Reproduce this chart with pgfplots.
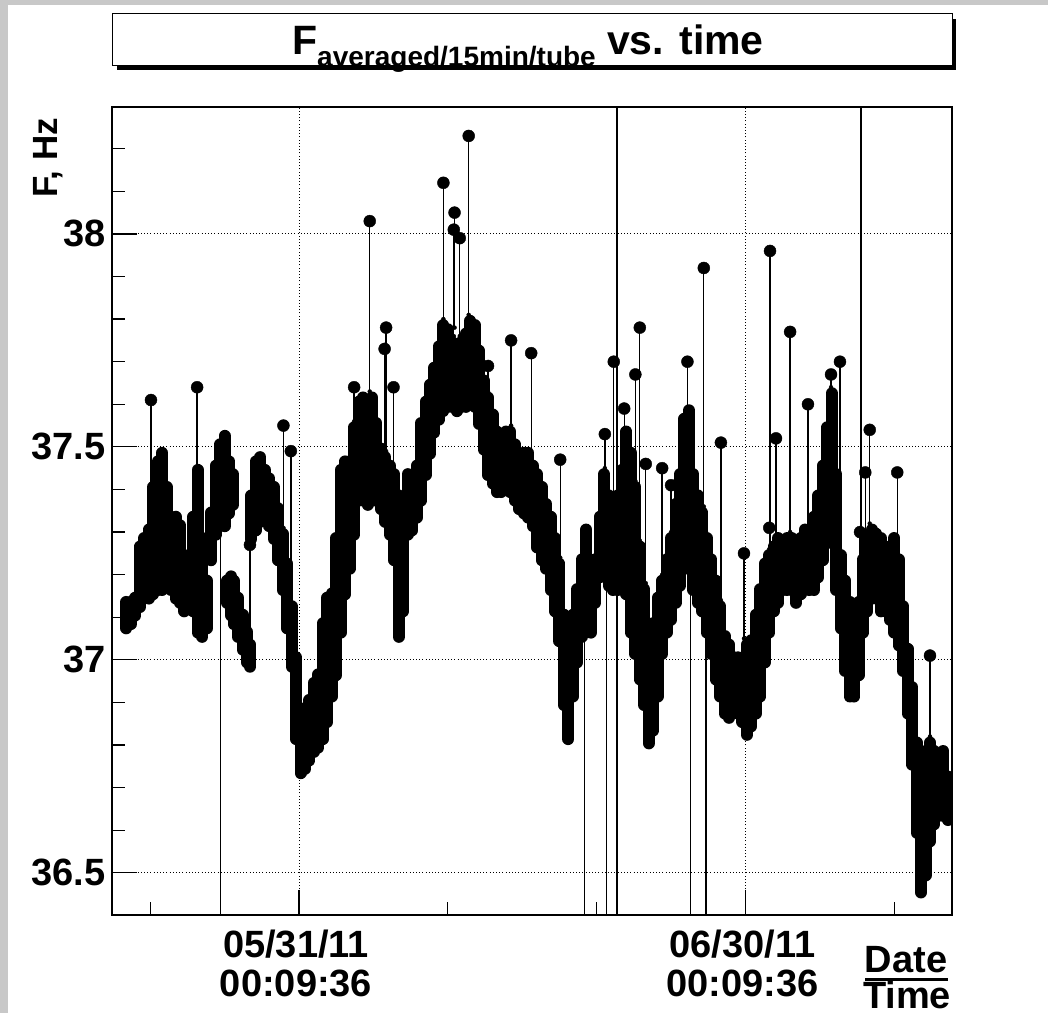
\documentclass[border=0pt]{standalone}
\usepackage{fontspec}
\setmainfont{Liberation Sans}
\usepackage{pgfplots}
\usepackage{pgfplotstable}
\pgfplotsset{compat=1.18}
\definecolor{canvasgray}{RGB}{200,200,200}

% Envelope of the 15-minute averages (days after 05/31/11 00:09:36, Hz)
\pgfplotstableread{
t lo hi
-11.6 37.06 37.15
-11.3 37.07 37.15
-11.0 37.09 37.16
-10.7 37.11 37.28
-10.4 37.14 37.30
-10.1 37.13 37.32
-9.8 37.14 37.42
-9.5 37.15 37.48
-9.2 37.15 37.50
-8.9 37.17 37.42
-8.6 37.15 37.33
-8.3 37.13 37.35
-8.0 37.12 37.33
-7.7 37.10 37.26
-7.4 37.11 37.23
-7.1 37.10 37.35
-6.8 37.05 37.46
-6.5 37.04 37.30
-6.2 37.06 37.20
-5.9 37.22 37.36
-5.6 37.28 37.47
-5.3 37.30 37.52
-5.0 37.30 37.54
-4.7 37.33 37.48
-4.45 37.35 37.45
-4.85 37.12 37.20
-4.55 37.09 37.21
-4.4 37.07 37.20
-4.1 37.04 37.16
-3.8 37.01 37.12
-3.5 36.98 37.08
-3.3 36.97 37.05
-3.2 37.27 37.40
-2.9 37.29 37.48
-2.6 37.31 37.49
-2.3 37.33 37.46
-2.0 37.30 37.44
-1.7 37.27 37.42
-1.4 37.22 37.37
-1.1 37.15 37.31
-0.8 37.06 37.24
-0.5 36.97 37.14
-0.2 36.80 37.02
0.1 36.72 36.90
0.4 36.73 36.88
0.7 36.75 36.92
1.0 36.77 36.96
1.3 36.78 36.98
1.6 36.80 37.10
1.9 36.84 37.16
2.2 36.90 37.17
2.5 36.95 37.30
2.8 37.05 37.46
3.1 37.14 37.48
3.4 37.20 37.48
3.7 37.28 37.56
4.0 37.36 37.62
4.3 37.36 37.63
4.6 37.35 37.62
4.9 37.36 37.63
5.2 37.36 37.57
5.5 37.34 37.51
5.8 37.31 37.49
6.1 37.28 37.47
6.4 37.22 37.45
6.7 37.04 37.40
7.0 37.10 37.38
7.3 37.28 37.45
7.6 37.29 37.43
7.9 37.32 37.47
8.2 37.36 37.57
8.5 37.42 37.62
8.8 37.47 37.66
9.1 37.52 37.70
9.4 37.55 37.75
9.7 37.57 37.80
10.0 37.58 37.79
10.3 37.58 37.76
10.6 37.57 37.74
10.9 37.58 37.76
11.2 37.58 37.78
11.5 37.60 37.81
11.8 37.58 37.80
12.1 37.54 37.74
12.4 37.48 37.67
12.7 37.42 37.63
13.0 37.40 37.59
13.3 37.38 37.55
13.6 37.38 37.52
13.9 37.39 37.55
14.2 37.38 37.55
14.5 37.36 37.52
14.8 37.34 37.50
15.1 37.33 37.50
15.4 37.32 37.50
15.7 37.30 37.47
16.0 37.25 37.45
16.3 37.22 37.42
16.6 37.20 37.38
16.9 37.15 37.35
17.2 37.10 37.30
17.5 37.03 37.24
17.8 36.88 37.12
18.1 36.80 37.05
18.4 36.90 37.12
18.7 36.98 37.18
19.0 37.04 37.25
19.3 37.08 37.32
19.6 37.05 37.18
19.9 37.12 37.25
20.2 37.18 37.35
20.5 37.20 37.45
20.8 37.16 37.40
21.1 37.15 37.38
21.4 37.15 37.40
21.7 37.18 37.46
22.0 37.14 37.55
22.3 37.05 37.50
22.6 37.00 37.42
22.9 36.94 37.28
23.2 36.88 37.18
23.5 36.79 37.06
23.8 36.82 37.10
24.1 36.90 37.16
24.4 37.00 37.20
24.7 37.05 37.25
25.0 37.08 37.30
25.3 37.12 37.38
25.6 37.16 37.45
25.9 37.20 37.58
26.2 37.20 37.60
26.5 37.15 37.45
26.8 37.12 37.40
27.1 37.10 37.36
27.4 37.05 37.30
27.7 37.00 37.25
28.0 36.94 37.20
28.3 36.90 37.14
28.6 36.86 37.07
28.9 36.85 37.05
29.2 36.87 37.02
29.5 36.86 37.02
29.8 36.84 37.00
30.1 36.81 37.05
30.4 36.83 37.06
30.7 36.86 37.12
31.0 36.90 37.18
31.3 36.98 37.24
31.6 37.05 37.26
31.9 37.10 37.28
32.2 37.12 37.30
32.5 37.15 37.28
32.8 37.15 37.30
33.1 37.15 37.30
33.4 37.12 37.28
33.7 37.14 37.30
34.0 37.18 37.32
34.3 37.15 37.30
34.6 37.15 37.35
34.9 37.18 37.40
35.2 37.22 37.47
35.5 37.26 37.56
35.8 37.28 37.64
36.1 37.15 37.45
36.4 37.06 37.26
36.7 36.96 37.20
37.0 36.90 37.15
37.3 36.90 37.12
37.6 36.95 37.15
37.9 37.05 37.25
38.2 37.10 37.30
38.5 37.13 37.32
38.8 37.13 37.31
39.1 37.10 37.30
39.4 37.10 37.28
39.7 37.08 37.28
40.0 37.05 37.30
40.3 37.02 37.25
40.6 36.96 37.14
40.9 36.86 37.04
41.2 36.74 36.95
41.5 36.58 36.82
41.8 36.44 36.72
42.1 36.48 36.80
42.4 36.56 36.82
42.7 36.60 36.80
43.0 36.62 36.78
43.3 36.62 36.80
43.6 36.61 36.74
}\bandtable

% Isolated readings joined to the band (from -> to); off-scale ones run out of the frame
\pgfplotstableread{
t from to
-9.95 37.32 37.61
-6.85 37.45 37.64
-5.3 37.32 35.9
-3.3 37.05 37.27
-1.05 37.31 37.55
-0.55 37.14 37.49
3.7 37.56 37.64
4.75 37.63 38.03
5.85 37.49 37.78
5.75 37.49 37.73
6.35 37.45 37.64
9.7 37.80 38.12
10.45 37.78 38.05
10.4 37.76 38.01
10.8 37.76 37.99
11.4 37.81 38.23
12.7 37.63 37.69
14.25 37.55 37.75
15.6 37.47 37.72
17.55 37.24 37.47
19.2 37.30 35.9
20.55 37.45 37.53
20.65 37.20 35.9
21.15 37.38 37.70
21.37 35.9 39.0
21.85 37.46 37.59
22.6 37.42 37.67
22.9 37.28 37.78
23.3 37.18 37.46
24.4 37.20 37.45
25.0 37.30 37.41
26.1 37.58 37.70
26.3 37.50 35.9
27.2 37.36 37.92
27.35 37.30 35.9
28.35 37.14 37.51
29.9 37.05 37.25
31.6 37.26 37.31
31.65 37.26 37.96
32.05 37.28 37.52
33.0 37.30 37.77
34.2 37.30 37.60
35.75 37.64 37.67
36.35 37.26 37.70
37.77 37.15 39.0
37.7 37.15 37.30
38.05 37.25 37.44
38.35 37.32 37.54
40.2 37.25 37.44
42.4 36.82 37.01
}\stemtable

\newcommand{\labfont}{\fontsize{38bp}{39bp}\selectfont\bfseries}

\begin{document}
\begin{tikzpicture}[x=1bp,y=1bp]
\useasboundingbox (0,0) rectangle (1048,1013);
\fill[canvasgray] (0,0) rectangle (1048,1013);
\fill[white] (8,0) rectangle (1048,1008);

% title pave with its shadow
\fill[black] (117,943) rectangle (956,994);
\filldraw[fill=white, draw=black, line width=1bp] (112,947) rectangle (952,999);
\node[anchor=base west, inner sep=0] at (292,958)
  {\fontsize{41bp}{41bp}\selectfont\bfseries F\raisebox{-12bp}{\fontsize{28bp}{28bp}\selectfont averaged/15min/tube} vs. time};

% y title
\node[rotate=90, anchor=base east, inner sep=0] at (57,895)
  {\fontsize{35bp}{35bp}\selectfont\bfseries F, Hz};

% time axis title
\node[anchor=base, inner sep=0] at (906,40) {\labfont Date};
\draw[line width=3bp] (865,33) -- (948,33);
\node[anchor=base, inner sep=0] at (907,4) {\labfont Time};

\begin{axis}[
  at={(112bp,98bp)}, anchor=south west,
  scale only axis, width=840bp, height=808bp,
  xmin=-12.57, xmax=43.88, ymin=36.401, ymax=38.298,
  xtick={0,30},
  xticklabels={{05/31/11\\00:09:36},{06/30/11\\00:09:36}},
  minor xtick={-10,10,20,40},
  ytick={36.5,37,37.5,38},
  minor ytick={36.6,36.7,36.8,36.9,37.1,37.2,37.3,37.4,37.6,37.7,37.8,37.9,38.1,38.2},
  tick pos=left, tick align=inside,
  major tick length=25bp, minor tick length=12.5bp,
  every tick/.style={black, line width=1.2bp},
  grid=major,
  major grid style={black, line width=0.9bp, dash pattern=on 1bp off 2.2bp},
  axis line style={black, line width=1.5bp},
  /pgf/number format/assume math mode=true,
  yticklabel style={font=\fontsize{38bp}{38bp}\selectfont\bfseries, xshift=-3bp},
  xticklabel style={font=\labfont, align=center, yshift=-11bp, xshift=-3bp},
]
% dense band of 15-minute averages
\addplot[only marks, mark=none,
  error bars/.cd, y dir=both, y explicit, error mark=none,
  error bar style={black, line width=12bp, line cap=round}]
  table[x=t, y expr={(\thisrow{lo}+\thisrow{hi})/2},
        y error plus expr={max((\thisrow{hi}-\thisrow{lo})/2-0.014,0)},
        y error minus expr={max((\thisrow{hi}-\thisrow{lo})/2-0.014,0)}] {\bandtable};
% connecting lines of isolated readings
\addplot[only marks, mark=none,
  error bars/.cd, y dir=both, y explicit, error mark=none,
  error bar style={black, line width=1.3bp}]
  table[x=t, y=from,
        y error plus expr={max(\thisrow{to}-\thisrow{from},0)},
        y error minus expr={max(\thisrow{from}-\thisrow{to},0)}] {\stemtable};
% the isolated readings themselves
\addplot[only marks, mark=*, mark size=6bp, black,
  restrict y to domain=36.4:38.3]
  table[x=t, y=to] {\stemtable};
\end{axis}
\end{tikzpicture}
\end{document}
